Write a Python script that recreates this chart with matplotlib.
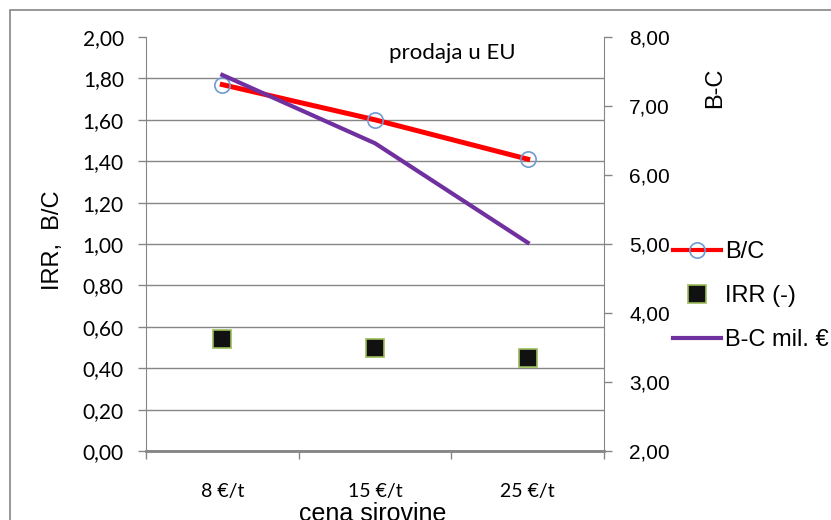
import matplotlib
matplotlib.use('Agg')
import matplotlib.pyplot as plt
from matplotlib.lines import Line2D
from matplotlib.patches import Rectangle
from matplotlib.ticker import FuncFormatter, FixedLocator

# data
categories = ['8 €/t', '15 €/t', '25 €/t']
bc_ratio = [1.77, 1.60, 1.41]
irr = [0.54, 0.50, 0.45]
bc_diff = [7.45, 6.46, 5.02]

calibri_like = 'Lato'
arial_like = 'Liberation Sans'
grid_gray = '#868686'

comma = FuncFormatter(lambda v, p: f'{v:.2f}'.replace('.', ','))

fig = plt.figure(figsize=(8.31, 5.2), dpi=100)
fig.patches.append(Rectangle((10 / 831, -0.1), 1.2, (510 / 520) + 0.1,
                             transform=fig.transFigure, fill=False,
                             edgecolor=grid_gray, linewidth=1.2))

ax = fig.add_axes([146 / 831, 69 / 520, 458 / 831, 414 / 520])
ax2 = ax.twinx()

x = list(range(len(categories)))

ax.plot(x, irr, 's', markersize=13, markerfacecolor='#111111',
        markeredgecolor='#9bbb59', markeredgewidth=1.2, zorder=3)
ax.plot(x, bc_ratio, '-', color='#ff0000', linewidth=3.6, zorder=4)
ax.plot(x, bc_ratio, 'o', markersize=11, markerfacecolor='none',
        markeredgecolor='#6f9bd1', markeredgewidth=1.2, zorder=5)
ax2.plot(x, bc_diff, '-', color='#7030a0', linewidth=3.0)

ax.set_xlim(-0.5, 2.5)
ax.set_ylim(0, 2.0)
ax2.set_ylim(2.0, 8.0)

ax.set_yticks([0.2 * i for i in range(11)])
ax.yaxis.set_major_formatter(comma)
ax2.set_yticks(range(2, 9))
ax2.yaxis.set_major_formatter(comma)

ax.xaxis.set_major_locator(FixedLocator([-0.5, 0.5, 1.5, 2.5]))
ax.xaxis.set_major_formatter(FuncFormatter(lambda v, p: ''))
ax.xaxis.set_minor_locator(FixedLocator(x))
ax.set_xticklabels(categories, minor=True)
ax.tick_params(axis='x', which='major', length=6, color=grid_gray, width=1)
ax.tick_params(axis='x', which='minor', length=0, pad=23, labelsize=14)
for lbl in ax.get_xticklabels(minor=True):
    lbl.set_fontfamily(calibri_like)

ax.tick_params(axis='y', length=6, color=grid_gray, width=1, pad=10, labelsize=15)
for lbl in ax.get_yticklabels():
    lbl.set_fontfamily(calibri_like)
ax2.tick_params(axis='y', length=6, color=grid_gray, width=1, pad=12, labelsize=15)
for lbl in ax2.get_yticklabels():
    lbl.set_fontfamily(arial_like)

ax.grid(axis='y', color=grid_gray, linewidth=1)
ax.set_axisbelow(True)
for a in (ax, ax2):
    a.spines['top'].set_visible(False)
    a.spines['left'].set_color(grid_gray)
    a.spines['right'].set_color(grid_gray)
    a.spines['bottom'].set_color(grid_gray)
    a.spines['bottom'].set_linewidth(1.8)
ax2.spines['left'].set_visible(False)
ax.spines['right'].set_visible(False)

# no gridline at the top value 2,00
ax.yaxis.get_gridlines()[-1].set_visible(False)

fig.text(452 / 831, 1 - 53 / 520, 'prodaja u EU', family=calibri_like,
         fontsize=16, ha='center', va='center')
fig.text(53 / 831, 1 - 240 / 520, 'IRR,  B/C', family=arial_like,
         fontsize=17, rotation=90, ha='center', va='center')
fig.text(715 / 831, 1 - 88 / 520, 'B-C', family=arial_like,
         fontsize=17, rotation=90, ha='center', va='center')
fig.text(373 / 831, 1 - 514 / 520, 'cena sirovine', family=arial_like,
         fontsize=18, ha='center', va='center')

handles = [
    Line2D([], [], color='#ff0000', linewidth=3.0, marker='o', markersize=11,
           markerfacecolor='none', markeredgecolor='#6f9bd1', markeredgewidth=1.2),
    Line2D([], [], linestyle='none', marker='s', markersize=13,
           markerfacecolor='#111111', markeredgecolor='#9bbb59', markeredgewidth=1.2),
    Line2D([], [], color='#7030a0', linewidth=3.0),
]
fig.legend(handles, ['B/C', 'IRR (-)', 'B-C mil. €'], loc='center left',
           bbox_to_anchor=(664 / 831, 1 - 296 / 520), frameon=False,
           prop={'family': arial_like, 'size': 17}, handlelength=2.0,
           handletextpad=0.2, labelspacing=0.93, borderaxespad=0)

fig.savefig('out.png', dpi=100)
